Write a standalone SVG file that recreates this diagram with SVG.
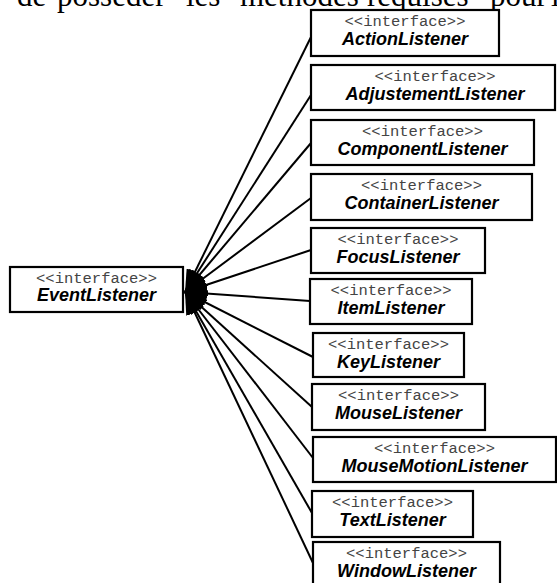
<svg xmlns="http://www.w3.org/2000/svg" width="557" height="583" viewBox="0 0 557 583">
  <style>
    .box { fill: #fff; stroke: #000; stroke-width: 2.2; }
    .stereo { font-family: "Liberation Mono", "DejaVu Sans Mono", monospace; font-size: 15.5px; fill: #444; text-anchor: middle; }
    .name { font-family: "Liberation Sans", Arial, sans-serif; font-size: 18px; font-weight: bold; font-style: italic; fill: #000; text-anchor: middle; }
    .edge { fill: none; stroke: #000; stroke-width: 2; }
    .prose { font-family: "Liberation Serif", "Times New Roman", serif; font-size: 31px; fill: #000; }
  </style>
  <defs>
    <!-- filled generalization head, tip on the parent interface -->
    <marker id="head" markerUnits="userSpaceOnUse" viewBox="0 -9 22 18" refX="22" refY="0" markerWidth="22" markerHeight="18" orient="auto">
      <path d="M0,-9 L22,0 L0,9 Z" fill="#000"/>
    </marker>
  </defs>

  <!-- running text of the page, clipped at the top edge -->
  <text class="prose" y="6"><tspan x="17">de</tspan><tspan x="57">posséder</tspan><tspan x="186">les</tspan><tspan x="240">méthodes</tspan><tspan x="367">requises</tspan><tspan x="490">pour</tspan><tspan x="551">l</tspan></text>

  <!-- inheritance connectors -->
  <g id="connectors">
    <line class="edge" x1="311" y1="37" x2="185" y2="292" marker-end="url(#head)"/>
    <line class="edge" x1="311" y1="95" x2="185" y2="292" marker-end="url(#head)"/>
    <line class="edge" x1="311" y1="143" x2="185" y2="292" marker-end="url(#head)"/>
    <line class="edge" x1="311" y1="198" x2="185" y2="292" marker-end="url(#head)"/>
    <line class="edge" x1="311" y1="250" x2="185" y2="292" marker-end="url(#head)"/>
    <line class="edge" x1="310" y1="301" x2="185" y2="292" marker-end="url(#head)"/>
    <line class="edge" x1="313" y1="357" x2="185" y2="292" marker-end="url(#head)"/>
    <line class="edge" x1="312" y1="407" x2="185" y2="292" marker-end="url(#head)"/>
    <line class="edge" x1="313" y1="458" x2="185" y2="292" marker-end="url(#head)"/>
    <line class="edge" x1="312" y1="513" x2="185" y2="292" marker-end="url(#head)"/>
    <line class="edge" x1="313" y1="563" x2="185" y2="292" marker-end="url(#head)"/>
  </g>

  <g id="EventListener">
    <rect class="box" x="10" y="267" width="173" height="45"/>
    <text class="stereo" x="96.5" y="283">&lt;&lt;interface&gt;&gt;</text>
    <text class="name" x="96.5" y="301">EventListener</text>
  </g>

  <g id="ActionListener">
    <rect class="box" x="311" y="10" width="188" height="46"/>
    <text class="stereo" x="405" y="26">&lt;&lt;interface&gt;&gt;</text>
    <text class="name" x="405" y="45">ActionListener</text>
  </g>

  <g id="AdjustementListener">
    <rect class="box" x="311" y="65" width="244" height="45"/>
    <text class="stereo" x="435" y="81">&lt;&lt;interface&gt;&gt;</text>
    <text class="name" x="435" y="100">AdjustementListener</text>
  </g>

  <g id="ComponentListener">
    <rect class="box" x="311" y="120" width="223" height="45"/>
    <text class="stereo" x="422.5" y="136">&lt;&lt;interface&gt;&gt;</text>
    <text class="name" x="422.5" y="155">ComponentListener</text>
  </g>

  <g id="ContainerListener">
    <rect class="box" x="311" y="174" width="221" height="46"/>
    <text class="stereo" x="421.5" y="190">&lt;&lt;interface&gt;&gt;</text>
    <text class="name" x="421.5" y="209">ContainerListener</text>
  </g>

  <g id="FocusListener">
    <rect class="box" x="311" y="228" width="174" height="45"/>
    <text class="stereo" x="398" y="244">&lt;&lt;interface&gt;&gt;</text>
    <text class="name" x="398" y="263">FocusListener</text>
  </g>

  <g id="ItemListener">
    <rect class="box" x="310" y="279" width="162" height="45"/>
    <text class="stereo" x="391" y="295">&lt;&lt;interface&gt;&gt;</text>
    <text class="name" x="391" y="314">ItemListener</text>
  </g>

  <g id="KeyListener">
    <rect class="box" x="313" y="333" width="151" height="44"/>
    <text class="stereo" x="388.5" y="349">&lt;&lt;interface&gt;&gt;</text>
    <text class="name" x="388.5" y="368">KeyListener</text>
  </g>

  <g id="MouseListener">
    <rect class="box" x="312" y="384" width="173" height="46"/>
    <text class="stereo" x="398.5" y="400">&lt;&lt;interface&gt;&gt;</text>
    <text class="name" x="398.5" y="419">MouseListener</text>
  </g>

  <g id="MouseMotionListener">
    <rect class="box" x="313" y="437" width="243" height="45"/>
    <text class="stereo" x="434.5" y="453">&lt;&lt;interface&gt;&gt;</text>
    <text class="name" x="434.5" y="472">MouseMotionListener</text>
  </g>

  <g id="TextListener">
    <rect class="box" x="312" y="491" width="161" height="46"/>
    <text class="stereo" x="392.5" y="507">&lt;&lt;interface&gt;&gt;</text>
    <text class="name" x="392.5" y="526">TextListener</text>
  </g>

  <g id="WindowListener">
    <rect class="box" x="313" y="542" width="187" height="46"/>
    <text class="stereo" x="406.5" y="558">&lt;&lt;interface&gt;&gt;</text>
    <text class="name" x="406.5" y="577">WindowListener</text>
  </g>
</svg>
